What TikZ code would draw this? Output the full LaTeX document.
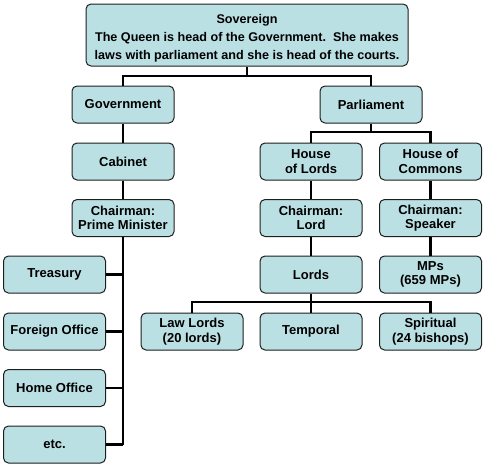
\documentclass[tikz,border=0pt]{standalone}
\usepackage{fontspec}
\setmainfont{Liberation Sans}
\definecolor{boxfill}{RGB}{187,224,228}
\definecolor{boxline}{RGB}{30,30,30}
\begin{document}
\begin{tikzpicture}[x=1pt,y=-1pt,
  orgbox/.style={draw=boxline,line width=1pt,fill=boxfill,rounded corners=5pt,
    minimum width=102pt,minimum height=37pt,inner sep=1pt,align=center,
    font=\fontsize{13}{14.5}\selectfont\bfseries},
  conn/.style={draw=black,line width=2.4pt}]
\useasboundingbox (0,0) rectangle (485,466);
% nodes
\node[orgbox,minimum width=322pt,minimum height=62pt,
  label={[align=center,yshift=-3pt,font=\fontsize{12.6}{18}\selectfont\bfseries]center:Sovereign\\The Queen is head of the Government.\ \ She makes\\laws with parliament and she is head of the courts.}] (sov) at (247,35) {};
\node[orgbox] (gov) at (123,104.5) {Government};
\node[orgbox] (cab) at (123,161.5) {Cabinet};
\node[orgbox] (pm) at (123,218) {Chairman:\\Prime Minister};
\node[orgbox] (tre) at (54.5,274.5) {Treasury};
\node[orgbox] (fo) at (54.5,331.5) {Foreign Office};
\node[orgbox] (ho) at (54.5,388) {Home Office};
\node[orgbox] (etc) at (54.5,444.5) {etc.};
\node[orgbox] (parl) at (371,104.5) {Parliament};
\node[orgbox] (hol) at (311,161.5) {House\\of Lords};
\node[orgbox] (hoc) at (430.5,161.5) {House of\\Commons};
\node[orgbox] (chl) at (311,218) {Chairman:\\Lord};
\node[orgbox] (chs) at (430.5,218) {Chairman:\\Speaker};
\node[orgbox] (lords) at (311,274.5) {Lords};
\node[orgbox] (mps) at (430.5,274.5) {MPs\\(659 MPs)};
\node[orgbox] (law) at (192,331.5) {Law Lords\\(20 lords)};
\node[orgbox] (temp) at (311,331.5) {Temporal};
\node[orgbox] (spir) at (430.5,331.5) {Spiritual\\(24 bishops)};
% junctions
\coordinate (j1) at (247,76);
\coordinate (j2) at (371,132);
\coordinate (j3) at (311,302);
\coordinate (jend) at (123,444.5);
% connectors
\draw[conn] (sov.south) -- (j1);
\draw[conn] (j1) -| (gov.north);
\draw[conn] (j1) -| (parl.north);
\draw[conn] (gov.south) -- (cab.north);
\draw[conn] (cab.south) -- (pm.north);
\draw[conn] (pm.south) -- (jend);
\draw[conn] (tre.east) -- (tre.east -| pm.south);
\draw[conn] (fo.east) -- (fo.east -| pm.south);
\draw[conn] (ho.east) -- (ho.east -| pm.south);
\draw[conn] (etc.east) -- (jend);
\draw[conn] (parl.south) -- (j2);
\draw[conn] (j2) -| (hol.north);
\draw[conn] (j2) -| (hoc.north);
\draw[conn] (hol.south) -- (chl.north);
\draw[conn] (chl.south) -- (lords.north);
\draw[conn] (hoc.south) -- (chs.north);
\draw[conn] (chs.south) -- (mps.north);
\draw[conn] (lords.south) -- (temp.north);
\draw[conn] (j3) -| (law.north);
\draw[conn] (j3) -| (spir.north);
\end{tikzpicture}
\end{document}
